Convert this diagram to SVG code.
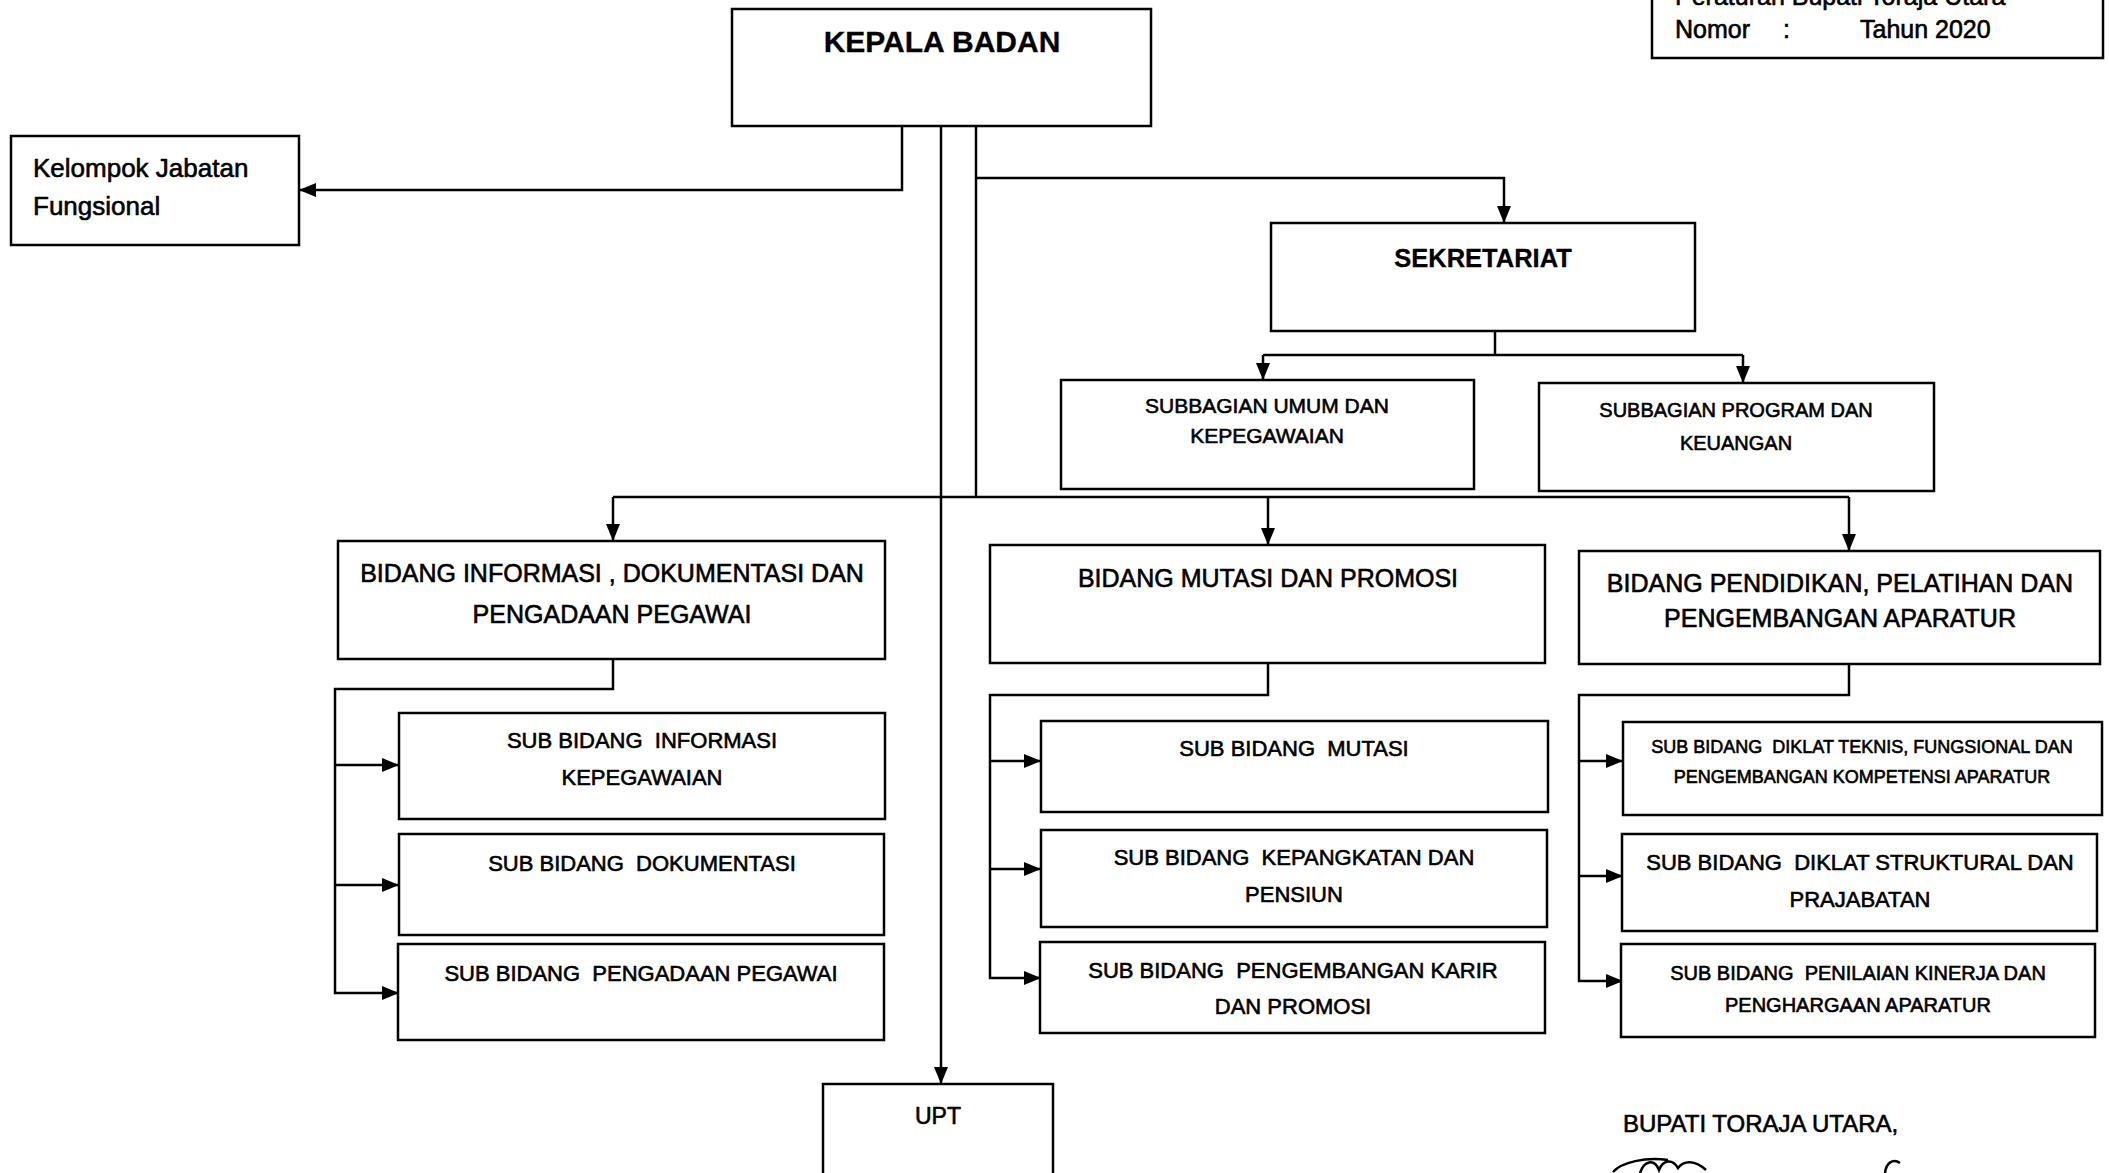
<svg xmlns="http://www.w3.org/2000/svg" width="2109" height="1173" viewBox="0 0 2109 1173">
<style>
.box{fill:#fff;stroke:#000;stroke-width:2.5}
.ln{fill:none;stroke:#000;stroke-width:2.5}
.t{font-family:"Liberation Sans",Arial,sans-serif;fill:#000;text-anchor:middle;stroke:#000;stroke-width:0.6}
.s{text-anchor:start}
.b{font-weight:bold;stroke-width:0.3}
</style>
<defs>
<marker id="ah" viewBox="0 0 17 14" refX="17" refY="7" markerWidth="17" markerHeight="14" markerUnits="userSpaceOnUse" orient="auto"><path d="M0,0 L17,7 L0,14 z" fill="#000"/></marker>
</defs>
<rect width="2109" height="1173" fill="#fff"/>

<g id="header">
<path class="ln" d="M1652,-10 V58 H2103 V-10"/>
<text class="t s" x="1675" y="5" font-size="25">Peraturan Bupati Toraja Utara</text>
<text class="t s" x="1675" y="38" font-size="25">Nomor</text>
<text class="t s" x="1783" y="38" font-size="25">:</text>
<text class="t s" x="1860" y="38" font-size="25">Tahun 2020</text>
</g>

<g id="connectors">
<path class="ln" d="M902,126 V190 H299" marker-end="url(#ah)"/>
<path class="ln" d="M941,126 V1084" marker-end="url(#ah)"/>
<path class="ln" d="M976,126 V497"/>
<path class="ln" d="M976,178 H1504 V223" marker-end="url(#ah)"/>
<path class="ln" d="M1495,331 V355"/>
<path class="ln" d="M1263,355 H1743"/>
<path class="ln" d="M1263,355 V380" marker-end="url(#ah)"/>
<path class="ln" d="M1743,355 V383" marker-end="url(#ah)"/>
<path class="ln" d="M613,497 H1849"/>
<path class="ln" d="M613,497 V541" marker-end="url(#ah)"/>
<path class="ln" d="M1268,497 V545" marker-end="url(#ah)"/>
<path class="ln" d="M1849,497 V551" marker-end="url(#ah)"/>
<path class="ln" d="M613,659 V689 H335 V993 H399" marker-end="url(#ah)"/>
<path class="ln" d="M335,765 H399" marker-end="url(#ah)"/>
<path class="ln" d="M335,885 H399" marker-end="url(#ah)"/>
<path class="ln" d="M1268,663 V695 H990 V978 H1041" marker-end="url(#ah)"/>
<path class="ln" d="M990,761 H1041" marker-end="url(#ah)"/>
<path class="ln" d="M990,869 H1041" marker-end="url(#ah)"/>
<path class="ln" d="M1849,664 V695 H1579 V981 H1623" marker-end="url(#ah)"/>
<path class="ln" d="M1579,761 H1623" marker-end="url(#ah)"/>
<path class="ln" d="M1579,876 H1623" marker-end="url(#ah)"/>
</g>

<g id="kepala">
<rect class="box" x="732" y="9" width="419" height="117"/>
<text class="t b" x="942" y="52" font-size="30">KEPALA BADAN</text>
</g>

<g id="fungsional">
<rect class="box" x="11" y="136" width="288" height="109"/>
<text class="t s" x="33" y="177" font-size="26">Kelompok Jabatan</text>
<text class="t s" x="33" y="215" font-size="26">Fungsional</text>
</g>

<g id="sekretariat">
<rect class="box" x="1271" y="223" width="424" height="108"/>
<text class="t b" x="1483" y="267" font-size="25.5">SEKRETARIAT</text>
</g>

<g id="subbag-umum">
<rect class="box" x="1061" y="380" width="413" height="109"/>
<text class="t" x="1267" y="413" font-size="21">SUBBAGIAN UMUM DAN</text>
<text class="t" x="1267" y="443" font-size="21">KEPEGAWAIAN</text>
</g>

<g id="subbag-program">
<rect class="box" x="1539" y="383" width="395" height="108"/>
<text class="t" x="1736" y="417" font-size="20">SUBBAGIAN PROGRAM DAN</text>
<text class="t" x="1736" y="450" font-size="20">KEUANGAN</text>
</g>

<g id="bidang-informasi">
<rect class="box" x="338" y="541" width="547" height="118"/>
<text class="t" x="612" y="582" font-size="25">BIDANG INFORMASI , DOKUMENTASI DAN</text>
<text class="t" x="612" y="623" font-size="25">PENGADAAN PEGAWAI</text>
</g>

<g id="bidang-mutasi">
<rect class="box" x="990" y="545" width="555" height="118"/>
<text class="t" x="1268" y="587" font-size="25">BIDANG MUTASI DAN PROMOSI</text>
</g>

<g id="bidang-pendidikan">
<rect class="box" x="1579" y="551" width="521" height="113"/>
<text class="t" x="1840" y="592" font-size="25">BIDANG PENDIDIKAN, PELATIHAN DAN</text>
<text class="t" x="1840" y="627" font-size="25">PENGEMBANGAN APARATUR</text>
</g>

<g id="sub-informasi">
<rect class="box" x="399" y="713" width="486" height="106"/>
<text class="t" x="642" y="748" font-size="22" xml:space="preserve">SUB BIDANG  INFORMASI</text>
<text class="t" x="642" y="785" font-size="22">KEPEGAWAIAN</text>
</g>

<g id="sub-dokumentasi">
<rect class="box" x="399" y="834" width="485" height="101"/>
<text class="t" x="642" y="871" font-size="22" xml:space="preserve">SUB BIDANG  DOKUMENTASI</text>
</g>

<g id="sub-pengadaan">
<rect class="box" x="398" y="944" width="486" height="96"/>
<text class="t" x="641" y="981" font-size="22" xml:space="preserve">SUB BIDANG  PENGADAAN PEGAWAI</text>
</g>

<g id="sub-mutasi">
<rect class="box" x="1041" y="721" width="507" height="91"/>
<text class="t" x="1294" y="756" font-size="22" xml:space="preserve">SUB BIDANG  MUTASI</text>
</g>

<g id="sub-kepangkatan">
<rect class="box" x="1041" y="830" width="506" height="97"/>
<text class="t" x="1294" y="865" font-size="22" xml:space="preserve">SUB BIDANG  KEPANGKATAN DAN</text>
<text class="t" x="1294" y="902" font-size="22">PENSIUN</text>
</g>

<g id="sub-karir">
<rect class="box" x="1040" y="942" width="505" height="91"/>
<text class="t" x="1293" y="978" font-size="22" xml:space="preserve">SUB BIDANG  PENGEMBANGAN KARIR</text>
<text class="t" x="1293" y="1014" font-size="22">DAN PROMOSI</text>
</g>

<g id="sub-diklat-teknis">
<rect class="box" x="1623" y="722" width="479" height="93"/>
<text class="t" x="1862" y="753" font-size="18" xml:space="preserve">SUB BIDANG  DIKLAT TEKNIS, FUNGSIONAL DAN</text>
<text class="t" x="1862" y="783" font-size="18">PENGEMBANGAN KOMPETENSI APARATUR</text>
</g>

<g id="sub-diklat-struktural">
<rect class="box" x="1622" y="834" width="475" height="97"/>
<text class="t" x="1860" y="870" font-size="22" xml:space="preserve">SUB BIDANG  DIKLAT STRUKTURAL DAN</text>
<text class="t" x="1860" y="907" font-size="22">PRAJABATAN</text>
</g>

<g id="sub-penilaian">
<rect class="box" x="1621" y="944" width="474" height="93"/>
<text class="t" x="1858" y="980" font-size="20" xml:space="preserve">SUB BIDANG  PENILAIAN KINERJA DAN</text>
<text class="t" x="1858" y="1012" font-size="20">PENGHARGAAN APARATUR</text>
</g>

<g id="upt">
<rect class="box" x="823" y="1084" width="230" height="100"/>
<text class="t" x="938" y="1124" font-size="23">UPT</text>
</g>

<g id="signature">
<text class="t s" x="1623" y="1132" font-size="24">BUPATI TORAJA UTARA,</text>
<path class="ln" stroke-width="3" d="M1613,1172 C1622,1162 1645,1157 1668,1160"/>
<path class="ln" stroke-width="3" d="M1640,1173 C1644,1161 1654,1158 1659,1170 C1663,1160 1672,1158 1678,1168 C1684,1160 1695,1160 1706,1170"/>
<path class="ln" stroke-width="3" d="M1885,1173 C1886,1163 1893,1158 1900,1163"/>
</g>
</svg>
